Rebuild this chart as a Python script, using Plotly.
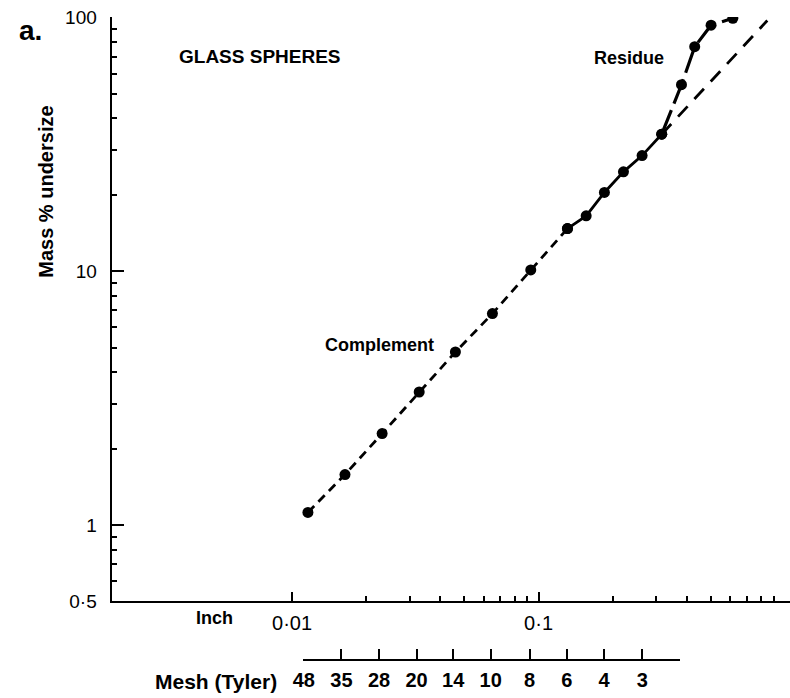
import math
import plotly.graph_objects as go

# ---- data -------------------------------------------------------------
# Complement: cumulative mass % undersize at Tyler sieve openings (inch)
complement_size = [0.0116, 0.0164, 0.0232, 0.0328, 0.046, 0.065, 0.093, 0.131]
complement_pct = [1.12, 1.58, 2.29, 3.34, 4.8, 6.8, 10.1, 14.7]

# Region where residue and complement coincide
overlap_size = [0.131, 0.156, 0.185, 0.221, 0.263, 0.316]
overlap_pct = [14.7, 16.5, 20.4, 24.6, 28.5, 34.6]

# Straight-line continuation of the complement
complement_fit_size = [0.316, 0.847]
complement_fit_pct = [34.6, 97.0]

# Residue at the coarse end
residue_size = [0.316, 0.380, 0.430, 0.501, 0.614]
residue_pct = [34.6, 54.2, 76.5, 93.0, 99.0]

# Inch scale ticks
inch_major = [0.01, 0.1]
inch_major_text = ["0\u00b701", "0\u00b71"]
inch_minor = [0.02, 0.03, 0.04, 0.05, 0.06, 0.07, 0.08, 0.09,
              0.2, 0.3, 0.4, 0.5, 0.6, 0.7, 0.8, 0.9]

# Mass % ticks
pct_major = [0.5, 1, 10, 100]
pct_major_text = ["0\u00b75", "1", "10", "100"]
pct_minor = [0.6, 0.7, 0.8, 0.9, 2, 3, 4, 5, 6, 7, 8, 9,
             20, 30, 40, 50, 60, 70, 80, 90]

# Tyler mesh scale (opening in inch -> mesh number)
mesh_opening = [0.0116, 0.0164, 0.0232, 0.0328, 0.046, 0.065, 0.093,
                0.131, 0.185, 0.263, 0.371]
mesh_label = ["48", "35", "28", "20", "14", "10", "8", "6", "4", "3", ""]

# ---- layout geometry ----------------------------------------------------
W, H = 790, 698
ML, MR, MT, MB = 0, 0, 15, 8
PW, PH = W - ML - MR, H - MT - MB


def fx(x):
    return (x - ML) / PW


def fy(y):
    return (H - MB - y) / PH


FONT = "Liberation Sans, Arial, Helvetica, sans-serif"
BLACK = "#000000"

fig = go.Figure()

fig.add_trace(go.Scatter(
    x=complement_size, y=complement_pct, mode="lines+markers",
    line=dict(color=BLACK, width=2.8, dash="9px,6px"),
    marker=dict(color=BLACK, size=11), showlegend=False, hoverinfo="skip"))

fig.add_trace(go.Scatter(
    x=overlap_size, y=overlap_pct, mode="lines+markers",
    line=dict(color=BLACK, width=2.8),
    marker=dict(color=BLACK, size=11), showlegend=False, hoverinfo="skip"))

fig.add_trace(go.Scatter(
    x=complement_fit_size, y=complement_fit_pct, mode="lines",
    line=dict(color=BLACK, width=2.8, dash="14px,10px"),
    showlegend=False, hoverinfo="skip"))

fig.add_trace(go.Scatter(
    x=residue_size, y=residue_pct, mode="lines+markers",
    line=dict(color=BLACK, width=3.2, dash="26px,7px"),
    marker=dict(color=BLACK, size=11), showlegend=False, hoverinfo="skip"))

# carrier trace for the mesh scale
fig.add_trace(go.Scatter(
    x=mesh_opening, y=[None] * len(mesh_opening), xaxis="x2", yaxis="y",
    mode="markers", showlegend=False, hoverinfo="skip"))

eps = 0.002
fig.update_layout(
    width=W, height=H,
    margin=dict(l=ML, r=MR, t=MT, b=MB),
    paper_bgcolor="white", plot_bgcolor="rgba(0,0,0,0)",
    font=dict(family=FONT, color=BLACK),
    xaxis=dict(
        type="log", range=[-2.732, 0.02], domain=[fx(102), 1.0],
        anchor="y", showline=True, linecolor=BLACK, linewidth=2,
        showgrid=False, zeroline=False,
        ticks="inside", ticklen=9, tickwidth=2, tickcolor=BLACK,
        tickmode="array", tickvals=inch_major, ticktext=inch_major_text,
        tickfont=dict(size=20, family=FONT), ticklabelstandoff=3,
        minor=dict(tickmode="array", tickvals=inch_minor, ticks="inside",
                   ticklen=5, tickwidth=2, tickcolor=BLACK, showgrid=False),
    ),
    yaxis=dict(
        type="log", range=[math.log10(0.5), 2.0008],
        domain=[fy(604), fy(17)],
        anchor="x", showline=True, linecolor=BLACK, linewidth=2,
        showgrid=False, zeroline=False,
        ticks="inside", ticklen=12, tickwidth=2, tickcolor=BLACK,
        tickmode="array", tickvals=pct_major, ticktext=pct_major_text,
        tickfont=dict(size=19, family=FONT), ticklabelstandoff=9,
        minor=dict(tickmode="array", tickvals=pct_minor, ticks="inside",
                   ticklen=5, tickwidth=2, tickcolor=BLACK, showgrid=False),
    ),
    xaxis2=dict(
        type="log",
        range=[math.log10(mesh_opening[0]) - eps, math.log10(mesh_opening[-1]) + eps],
        domain=[fx(296.5), fx(678.5)],
        anchor="free", position=fy(663), showline=True, linecolor=BLACK,
        linewidth=2, showgrid=False, zeroline=False,
        ticks="inside", ticklen=10, tickwidth=2, tickcolor=BLACK,
        tickmode="array", tickvals=mesh_opening,
        ticktext=["<b>%s</b>" % t if t else "" for t in mesh_label],
        tickfont=dict(size=20, family=FONT), ticklabelstandoff=2,
    ),
)


def label(text, x, y, size=15, bold=True, angle=0):
    fig.add_annotation(
        x=fx(x), y=fy(y), xref="paper", yref="paper",
        text="<b>%s</b>" % text if bold else text, showarrow=False,
        xanchor="center", yanchor="middle", textangle=angle,
        font=dict(size=size, family=FONT, color=BLACK))


label("a.", 20, 31, size=28)
label("GLASS SPHERES", 253, 57, size=19)
label("Residue", 627, 58, size=18)
label("Complement", 374, 346, size=18)
label("Mass % undersize", 36, 192, size=20, angle=-90)
label("Inch", 206, 621, size=18)
label("Mesh (Tyler)", 208, 684, size=21)

fig.write_html("out.html")
